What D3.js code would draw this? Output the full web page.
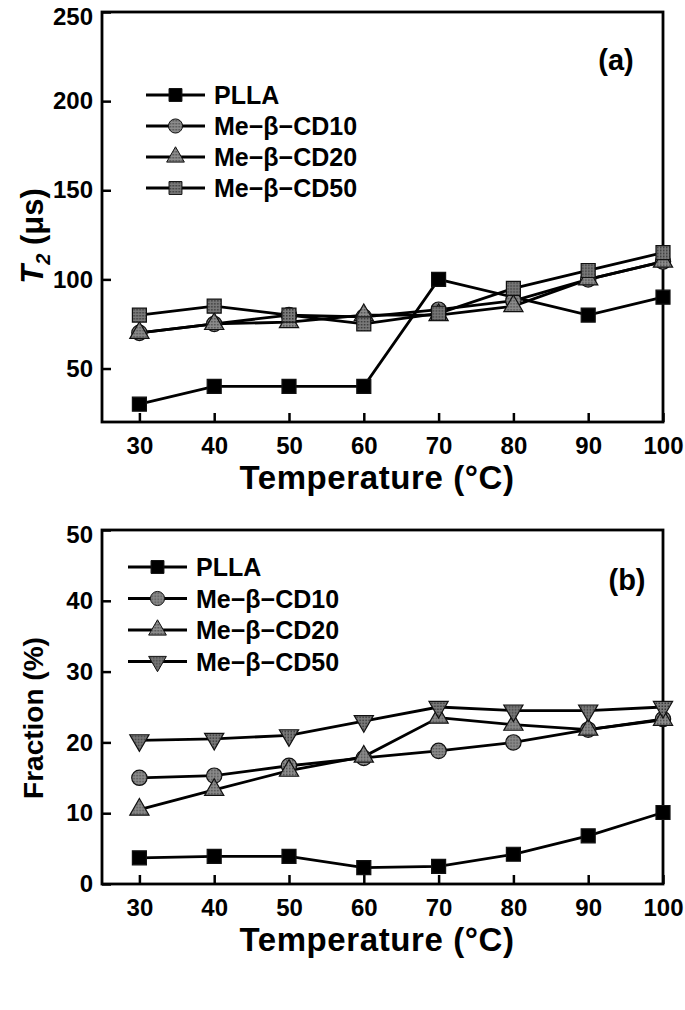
<!DOCTYPE html>
<html><head><meta charset="utf-8">
<script src="https://cdn.jsdelivr.net/npm/d3@7"></script>
<style>
body{margin:0;background:#fff}
svg{display:block}
text{font-family:"Liberation Sans",Arial,sans-serif;font-weight:bold;fill:#000}
</style>
</head><body>
<svg id="chart" width="685" height="1010"></svg>
<script>
// ---- data ----
const temps = [30, 40, 50, 60, 70, 80, 90, 100];
const seriesNames = ["PLLA", "Me\u2212\u03B2\u2212CD10", "Me\u2212\u03B2\u2212CD20", "Me\u2212\u03B2\u2212CD50"];
// panel (a) T2 (µs)
const t2PLLA = [30, 40, 40, 40, 100, 90, 80, 90];
const t2CD10 = [70, 75, 80, 79, 83, 88, 100, 110];
const t2CD20 = [70, 75, 76, 80, 80, 85, 100, 110];
const t2CD50 = [80, 85, 80, 75, 81, 95, 105, 115];
// panel (b) Fraction (%)
const frPLLA = [3.7, 3.9, 3.9, 2.3, 2.5, 4.2, 6.8, 10.1];
const frCD10 = [15.0, 15.3, 16.7, 17.8, 18.8, 20.0, 21.8, 23.3];
const frCD20 = [10.5, 13.3, 16.0, 18.0, 23.5, 22.5, 21.8, 23.2];
const frCD50 = [20.3, 20.5, 21.0, 23.0, 25.0, 24.5, 24.5, 25.0];
// ticks
const xTicks = [30, 40, 50, 60, 70, 80, 90, 100];
const yTicksA = [50, 100, 150, 200, 250];
const yTicksB = [0, 10, 20, 30, 40, 50];

const svg = d3.select("#chart");

const defs = svg.append("defs");
function dotPattern(id, bg, dot) {
  const p = defs.append("pattern").attr("id", id).attr("patternUnits", "userSpaceOnUse")
    .attr("width", 3).attr("height", 3);
  p.append("rect").attr("width", 3).attr("height", 3).attr("fill", bg);
  p.append("rect").attr("width", 1.5).attr("height", 1.5).attr("fill", dot);
}
dotPattern("gLight", "#8c8c8c", "#4e4e4e");
dotPattern("gDark", "#7a7a7a", "#383838");

function drawPanel(cfg) {
  const x = d3.scaleLinear().domain(cfg.xDomain).range([cfg.left, cfg.right]);
  const y = d3.scaleLinear().domain(cfg.yDomain).range([cfg.bottom, cfg.top]);
  const g = svg.append("g");

  const xAx = d3.axisBottom(x).tickValues(xTicks).tickSize(-9).tickPadding(15).tickSizeOuter(0);
  const gx = g.append("g").attr("transform", `translate(0,${cfg.bottom})`).call(xAx);
  const yAx = d3.axisLeft(y).tickValues(cfg.yTicks).tickSize(-9).tickPadding(17).tickSizeOuter(0);
  const gy = g.append("g").attr("transform", `translate(${cfg.left},0)`).call(yAx);
  [gx, gy].forEach(a => {
    a.select(".domain").remove();
    a.selectAll(".tick line").attr("stroke", "#000").attr("stroke-width", 2.5);
    a.selectAll(".tick text").style("font-size", "24px").attr("fill", "#000");
  });
  gy.selectAll(".tick text").attr("dx", 8)
    .attr("dy", d => d === cfg.yDomain[1] ? "0.5em" : "0.32em");

  g.append("rect").attr("x", cfg.left).attr("y", cfg.top)
    .attr("width", cfg.right - cfg.left).attr("height", cfg.bottom - cfg.top)
    .attr("fill", "none").attr("stroke", "#000").attr("stroke-width", 2.8);

  const line = d3.line().x((d, i) => x(temps[i])).y(d => y(d));
  cfg.series.forEach(s => {
    g.append("path").datum(s.values).attr("d", line)
      .attr("fill", "none").attr("stroke", "#000").attr("stroke-width", 2.8);
  });
  cfg.series.forEach(s => {
    g.selectAll(null).data(s.values).enter().append("path")
      .attr("d", d3.symbol().type(s.shape).size(s.size))
      .attr("transform", (d, i) => `translate(${x(temps[i])},${y(d)})${s.rot ? " rotate(180)" : ""}`)
      .attr("fill", s.fill).attr("stroke", "#111").attr("stroke-width", 1.2);
  });

  cfg.series.forEach((s, k) => {
    const ly = cfg.legY + k * cfg.legStep;
    g.append("line").attr("x1", cfg.legX).attr("x2", cfg.legX + 59).attr("y1", ly).attr("y2", ly)
      .attr("stroke", "#000").attr("stroke-width", 2.8);
    g.append("path").attr("d", d3.symbol().type(s.shape).size(s.size * 0.85))
      .attr("transform", `translate(${cfg.legX + 29.5},${ly})${s.rot ? " rotate(180)" : ""}`)
      .attr("fill", s.fill).attr("stroke", "#111").attr("stroke-width", 1);
    g.append("text").attr("x", cfg.legX + 68).attr("y", ly).attr("dy", "0.36em")
      .style("font-size", "25px").text(seriesNames[k]);
  });

  g.append("text").attr("x", cfg.labX).attr("y", cfg.labY).attr("text-anchor", "middle")
    .attr("dy", "0.36em").style("font-size", "29px").text(cfg.label);

  g.append("text").attr("x", 377).attr("y", cfg.bottom + 67)
    .attr("text-anchor", "middle").style("font-size", "33px").style("letter-spacing", "0.6px")
    .text("Temperature (\u00B0C)");
  return g;
}

const gA = drawPanel({
  left: 102, right: 663, top: 12, bottom: 422,
  xDomain: [25, 100], yDomain: [20, 250], yTicks: yTicksA,
  series: [
    {values: t2PLLA, shape: d3.symbolSquare, size: 196, fill: "#000"},
    {values: t2CD10, shape: d3.symbolCircle, size: 185, fill: "url(#gLight)"},
    {values: t2CD20, shape: d3.symbolTriangle, size: 160, fill: "url(#gLight)"},
    {values: t2CD50, shape: d3.symbolSquare, size: 196, fill: "url(#gDark)"}
  ],
  legX: 146, legY: 95, legStep: 31, label: "(a)", labX: 616, labY: 60
});
const ta = gA.append("text").attr("transform", "translate(43,236) rotate(-90)")
  .attr("text-anchor", "middle").style("font-size", "31px");
ta.append("tspan").style("font-style", "italic").text("T");
ta.append("tspan").attr("dy", 7).style("font-size", "20px").style("font-style", "italic").text("2");
ta.append("tspan").attr("dy", -7).text(" (\u03BCs)");

const gB = drawPanel({
  left: 102, right: 663, top: 530, bottom: 884,
  xDomain: [25, 100], yDomain: [0, 50], yTicks: yTicksB,
  series: [
    {values: frPLLA, shape: d3.symbolSquare, size: 196, fill: "#000"},
    {values: frCD10, shape: d3.symbolCircle, size: 185, fill: "url(#gLight)"},
    {values: frCD20, shape: d3.symbolTriangle, size: 160, fill: "url(#gLight)"},
    {values: frCD50, shape: d3.symbolTriangle, size: 160, fill: "url(#gDark)", rot: true}
  ],
  legX: 128, legY: 567, legStep: 31.5, label: "(b)", labX: 627, labY: 580
});
gB.append("text").attr("transform", "translate(43,718) rotate(-90)")
  .attr("text-anchor", "middle").style("font-size", "28px").text("Fraction (%)");
</script>
</body></html>
